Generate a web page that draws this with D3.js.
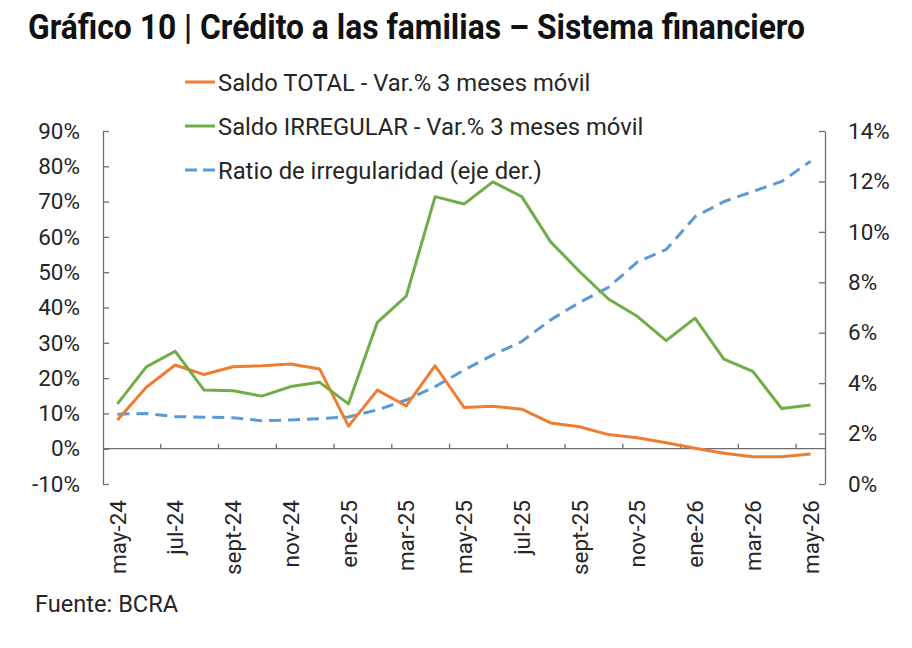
<!DOCTYPE html>
<html>
<head>
<meta charset="utf-8">
<script src="https://cdn.jsdelivr.net/npm/d3@7"></script>
<style>
  html, body { margin: 0; padding: 0; background: #fff; }
  svg { display: block; font-family: Roboto, "Noto Sans", sans-serif; }
</style>
</head>
<body>
<svg id="chart" width="912" height="648"></svg>
<script>
// ---- data ----
const months = ["may-24","jun-24","jul-24","ago-24","sept-24","oct-24","nov-24","dic-24",
  "ene-25","feb-25","mar-25","abr-25","may-25","jun-25","jul-25","ago-25","sept-25","oct-25",
  "nov-25","dic-25","ene-26","feb-26","mar-26","abr-26","may-26"];
const saldoTotal = [8.1, 17.4, 23.7, 21.0, 23.2, 23.5, 24.0, 22.6, 6.4, 16.6, 12.1, 23.5, 11.7,
  12.0, 11.2, 7.3, 6.2, 4.0, 3.1, 1.7, 0.1, -1.3, -2.3, -2.3, -1.5];
const saldoIrregular = [12.7, 23.2, 27.6, 16.6, 16.4, 14.9, 17.6, 18.8, 12.7, 35.8, 43.2, 71.4,
  69.3, 75.6, 71.4, 58.6, 50.2, 42.4, 37.5, 30.6, 37.0, 25.4, 21.9, 11.4, 12.4];
const ratioIrregularidad = [2.77, 2.80, 2.67, 2.65, 2.63, 2.51, 2.54, 2.59, 2.66, 2.94, 3.33,
  3.86, 4.52, 5.12, 5.65, 6.51, 7.2, 7.8, 8.8, 9.3, 10.6, 11.2, 11.6, 12.0, 12.8];
const leftTicks = [-10, 0, 10, 20, 30, 40, 50, 60, 70, 80, 90];
const rightTicks = [0, 2, 4, 6, 8, 10, 12, 14];
const seriesNames = ["Saldo TOTAL - Var.% 3 meses móvil",
  "Saldo IRREGULAR - Var.% 3 meses móvil",
  "Ratio de irregularidad (eje der.)"];
const title = "Gráfico 10 | Crédito a las familias – Sistema financiero";
const source = "Fuente: BCRA";

// ---- layout ----
const svg = d3.select("#chart");
const L = 103, R = 825, T = 131, B = 484;
const axisColor = "#6e6e6e", textColor = "#262626";
const cOrange = "#ED7D31", cGreen = "#70AD47", cBlue = "#5B9BD5";

const x = d3.scaleBand().domain(months).range([L, R]).paddingInner(0).paddingOuter(0);
const cx = m => x(m) + x.bandwidth() / 2;
const yL = d3.scaleLinear().domain([-10, 90]).range([B, T]);
const yR = d3.scaleLinear().domain([0, 14]).range([B, T]);

// title
svg.append("text").attr("x", 28).attr("y", 39)
  .attr("font-size", 35).attr("font-weight", 700).attr("fill", "#111")
  .attr("textLength", 777).attr("lengthAdjust", "spacingAndGlyphs")
  .text(title);

// left axis
const gL = svg.append("g").attr("transform", `translate(${L},0)`)
  .call(d3.axisLeft(yL).tickValues(leftTicks).tickSizeInner(-6).tickSizeOuter(0)
    .tickPadding(23).tickFormat(d => d + "%"));
// right axis
const gR = svg.append("g").attr("transform", `translate(${R},0)`)
  .call(d3.axisRight(yR).tickValues(rightTicks).tickSizeInner(-6).tickSizeOuter(0)
    .tickPadding(23).tickFormat(d => d + "%"));
[gL, gR].forEach(g => {
  g.select(".domain").attr("stroke", axisColor).attr("stroke-width", 1.3);
  g.selectAll(".tick line").attr("stroke", axisColor).attr("stroke-width", 1.3);
  g.selectAll(".tick text").attr("font-size", 22.5).attr("fill", textColor)
    .attr("font-family", "Roboto");
});

// zero line (category axis)
svg.append("line").attr("x1", L).attr("x2", R).attr("y1", yL(0)).attr("y2", yL(0))
  .attr("stroke", axisColor).attr("stroke-width", 1.3);
// category tick marks every two months (at boundaries)
const tickMonths = months.filter((m, i) => i % 2 === 0 && i > 0);
svg.append("g").selectAll("line").data(tickMonths).join("line")
  .attr("x1", m => x(m)).attr("x2", m => x(m))
  .attr("y1", yL(0)).attr("y2", yL(0) - 5)
  .attr("stroke", axisColor).attr("stroke-width", 1.3);

// category labels
const labelMonths = months.filter((m, i) => i % 2 === 0);
const gB = svg.append("g").attr("transform", `translate(0,${B})`)
  .call(d3.axisBottom(x).tickValues(labelMonths).tickSize(0));
gB.select(".domain").remove();
gB.selectAll(".tick text")
  .attr("transform", "rotate(-90)").attr("text-anchor", "end")
  .attr("x", -16).attr("y", 0).attr("dy", "0.36em")
  .attr("font-size", 22.5).attr("fill", textColor).attr("font-family", "Roboto");

// lines
const lineL = d3.line().x((d, i) => cx(months[i])).y(d => yL(d));
const lineR = d3.line().x((d, i) => cx(months[i])).y(d => yR(d));
svg.append("path").datum(ratioIrregularidad).attr("d", lineR)
  .attr("fill", "none").attr("stroke", cBlue).attr("stroke-width", 3)
  .attr("stroke-dasharray", "12,7");
svg.append("path").datum(saldoTotal).attr("d", lineL)
  .attr("fill", "none").attr("stroke", cOrange).attr("stroke-width", 3)
  .attr("stroke-linejoin", "round");
svg.append("path").datum(saldoIrregular).attr("d", lineL)
  .attr("fill", "none").attr("stroke", cGreen).attr("stroke-width", 3)
  .attr("stroke-linejoin", "round");

// legend
const legY = [82, 126, 170];
const legColors = [cOrange, cGreen, cBlue];
const leg = svg.append("g");
seriesNames.forEach((name, i) => {
  leg.append("line").attr("x1", 185).attr("x2", 215).attr("y1", legY[i]).attr("y2", legY[i])
    .attr("stroke", legColors[i]).attr("stroke-width", 3)
    .attr("stroke-dasharray", i === 2 ? "12,6" : null);
  leg.append("text").attr("x", 218).attr("y", legY[i]).attr("dy", "0.36em")
    .attr("font-size", 23.8).attr("fill", textColor).text(name);
});

// source
svg.append("text").attr("x", 35).attr("y", 612)
  .attr("font-size", 23.6).attr("fill", textColor).text(source);
</script>
</body>
</html>
